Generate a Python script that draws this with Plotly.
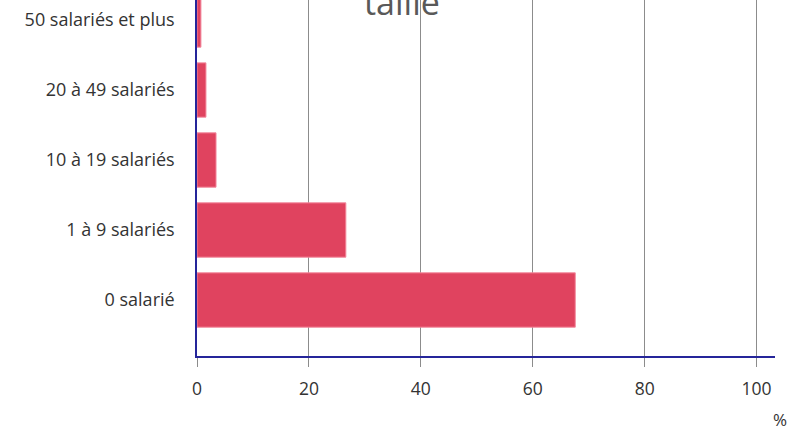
import plotly.graph_objects as go

categories = ["0 salarié", "1 à 9 salariés", "10 à 19 salariés", "20 à 49 salariés", "50 salariés et plus"]
values = [67.6, 26.6, 3.4, 1.6, 0.7]
x_ticks = [0, 20, 40, 60, 80, 100]
title_text = "taille"
unit_text = "%"

fig = go.Figure()
fig.add_trace(go.Bar(
    y=categories, x=values, orientation="h",
    marker=dict(color="#E0435F", line=dict(color="#F3889C", width=1)),
    hoverinfo="x+y",
))

fig.update_layout(
    width=804, height=428,
    margin=dict(l=197, r=28.5, t=0, b=72, autoexpand=False),
    paper_bgcolor="white", plot_bgcolor="white",
    bargap=0.224,
    showlegend=False,
    font=dict(family="Open Sans", color="#333333", size=18),
)

fig.update_xaxes(
    range=[0, 103.3],
    tickvals=x_ticks,
    ticktext=[str(v) for v in x_ticks],
    showgrid=True, gridcolor="#8C8C8C", gridwidth=1,
    zeroline=False,
    showline=True, linecolor="#25259A", linewidth=1.5,
    ticks="outside", ticklen=9, tickcolor="#8C8C8C", tickwidth=1,
    ticklabelstandoff=7,
    tickfont=dict(size=17.5, color="#333333"),
    automargin=False,
)

fig.update_yaxes(
    categoryorder="array", categoryarray=categories,
    range=[-0.8, 4.286],
    showgrid=False, zeroline=False,
    showline=True, linecolor="#25259A", linewidth=1.5,
    ticks="", ticklabelstandoff=17,
    tickfont=dict(size=18, color="#333333"),
    automargin=False,
)

fig.add_annotation(
    text=title_text, xref="paper", yref="paper",
    x=(402 - 197) / (804 - 197 - 28.5), y=1, xanchor="center", yanchor="bottom",
    yshift=-27, showarrow=False,
    font=dict(family="Open Sans", size=34, color="#595959"),
)

fig.add_annotation(
    text=unit_text, xref="paper", yref="paper",
    x=(781 - 197) / (804 - 197 - 28.5), y=0, xanchor="center", yanchor="middle",
    yshift=-63, showarrow=False,
    font=dict(family="Open Sans", size=17, color="#333333"),
)

fig.write_html(
    "out.html",
    config={"displayModeBar": False},
    post_script="document.body.style.margin='0';document.body.style.overflow='hidden';",
)
